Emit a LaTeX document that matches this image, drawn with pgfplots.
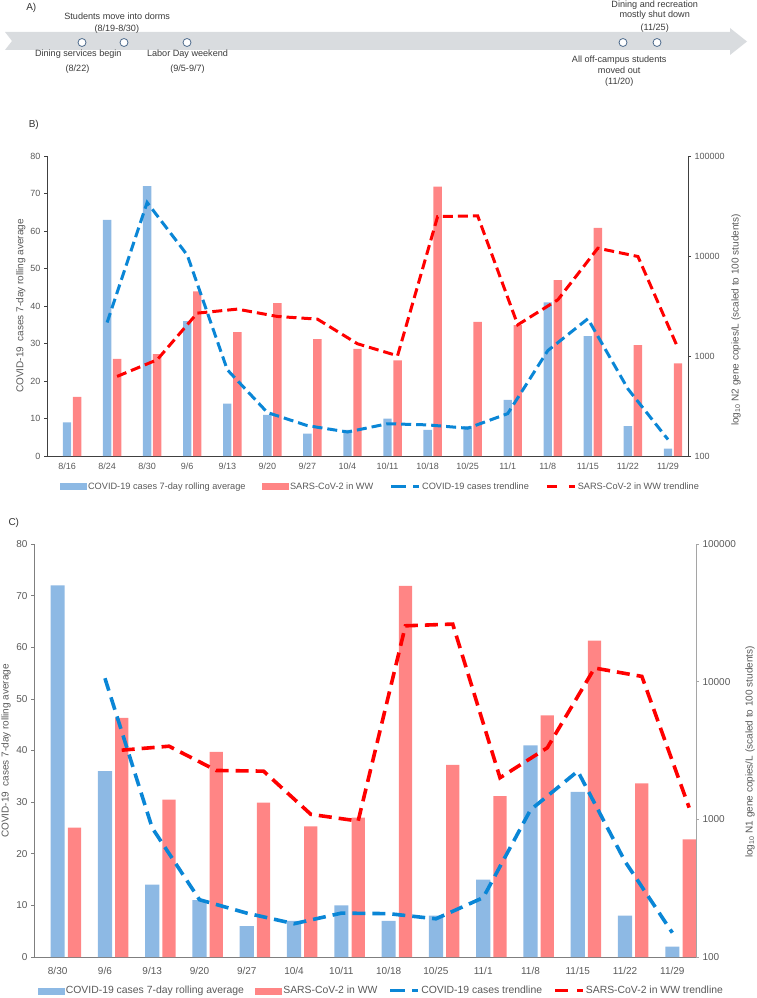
\documentclass[border=0pt]{standalone}
\usepackage{fontspec}
\setmainfont{Liberation Sans}
\usepackage{pgfplots}
\pgfplotsset{compat=1.18}
\definecolor{barblue}{HTML}{8DB9E4}
\definecolor{barred}{HTML}{FF8585}
\definecolor{lineblue}{HTML}{0A86D6}
\definecolor{linered}{HTML}{FF0000}
\definecolor{txt}{HTML}{595959}
\definecolor{tltxt}{HTML}{3A3A3A}
\definecolor{tlbar}{HTML}{D9DCDF}
\definecolor{circ}{HTML}{4E6B8C}
\definecolor{axB}{HTML}{404040}
\definecolor{axC}{HTML}{7F7F7F}

\pgfplotsset{
  Bbase/.style={at={(47pt,-456pt)}, anchor=south west, scale only axis,
    width=641pt, height=300pt, xmin=-0.5, xmax=15.5},
  Cbase/.style={at={(34pt,-957pt)}, anchor=south west, scale only axis,
    width=662pt, height=413pt, xmin=-0.5, xmax=13.5},
  barleg/.style={legend image code/.code={\fill[#1] (0pt,-3pt) rectangle (26pt,3pt);}},
  dashleg/.style={legend image code/.code={\draw[#1, line width=2.8pt] (0pt,0pt)--(14.5pt,0pt);
      \draw[#1, line width=2.8pt] (22pt,0pt)--(28pt,0pt);}},
}

\begin{document}
\begin{tikzpicture}
\useasboundingbox (0pt,0pt) rectangle (756pt,-998pt);

% ---------------- Panel A: timeline ----------------
\fill[tlbar] (5pt,-32pt) -- (730pt,-32pt) -- (730pt,-28pt) -- (747pt,-41.5pt)
  -- (730pt,-55pt) -- (730pt,-50pt) -- (5pt,-50pt) -- (12pt,-41pt) -- cycle;
\foreach \cx in {82,124,187,623,657}
  \draw[circ, line width=0.8pt, fill=white] (\cx pt,-42.5pt) circle (4pt);
\begin{scope}[every node/.style={font=\fontsize{9.1}{10}\selectfont, text=tltxt, inner sep=0pt}]
\node at (117.2pt,-16.7pt) {Students move into dorms};
\node at (116.8pt,-29pt) {(8/19-8/30)};
\node at (78.3pt,-54pt) {Dining services begin};
\node at (77.5pt,-69pt) {(8/22)};
\node at (187.5pt,-54pt) {Labor Day weekend};
\node at (187.5pt,-69pt) {(9/5-9/7)};
\node at (654.7pt,-5.5pt) {Dining and recreation};
\node at (654.7pt,-15.3pt) {mostly shut down};
\node at (654.7pt,-28pt) {(11/25)};
\node at (619.2pt,-60.3pt) {All off-campus students};
\node at (619.2pt,-70.3pt) {moved out};
\node at (619.2pt,-82.5pt) {(11/20)};
\end{scope}
\begin{scope}[every node/.style={font=\fontsize{10}{12}\selectfont, text=black!80, inner sep=0pt}]
\node at (31.3pt,-7.5pt) {A)};
\node at (33.8pt,-125.3pt) {B)};
\node at (13.8pt,-523pt) {C)};
\end{scope}

% ---------------- Panel B ----------------
\begin{axis}[Bbase, ymin=0, ymax=80,
  axis x line*=bottom, axis y line*=left,
  axis line style={draw=axB, line width=0.8pt, -},
  xtick={0,...,15},
  xticklabels={8/16,8/24,8/30,9/6,9/13,9/20,9/27,10/4,10/11,10/18,10/25,11/1,11/8,11/15,11/22,11/29},
  xtick style={draw=none},
  ytick={0,10,20,30,40,50,60,70,80},
  yticklabels={0,10,20,30,40,50,60,70,80},
  tick align=outside, major tick length=3pt,
  ytick style={draw=axB, line width=0.6pt},
  tick label style={font=\fontsize{9}{10}\selectfont, text=txt},
]
\addplot[ybar, bar width=0.21, bar shift=0pt, fill=barblue, draw=none] coordinates {
(0,9) (1,63) (2,72) (3,36) (4,14) (5,11) (6,6) (7,7) (8,10) (9,7) (10,8) (11,15) (12,41) (13,32) (14,8) (15,2)};
\end{axis}
\begin{axis}[Bbase, ymode=log, ymin=100, ymax=100000,
  axis x line=none, axis y line*=right,
  axis line style={draw=axB, line width=0.8pt, -},
  ytick={100,1000,10000,100000}, yticklabels={100,1000,10000,100000},
  yminorticks=false,
  tick align=outside, major tick length=3pt,
  ytick style={draw=axB, line width=0.6pt},
  tick label style={font=\fontsize{9}{10}\selectfont, text=txt},
  log origin=infty,
]
\addplot[ybar, bar width=0.21, bar shift=0pt, fill=barred, draw=none] coordinates {
(0.25,391) (1.25,937) (2.25,1047) (3.25,4430) (4.25,1731) (5.25,3388) (6.25,1479) (7.25,1181)
(8.25,903) (9.25,49400) (10.25,2198) (11.25,2036) (12.25,5730) (13.25,19100) (14.25,1285) (15.25,843)};
\end{axis}
\begin{axis}[Bbase, ymin=0, ymax=80, hide axis]
\addplot[lineblue, line width=3pt, dash pattern=on 10pt off 5pt] coordinates {
(1,35.6) (2,67.6) (3,53.6) (4,23) (5,11.6) (6,8.1) (7,6.4) (8,8.6) (9,8.3) (10,7.4) (11,11.3) (12,28.1) (13,36.6) (14,17.9) (15,4.4)};
\end{axis}
\begin{axis}[Bbase, ymode=log, ymin=100, ymax=100000, hide axis,
  legend columns=4,
  legend style={at={(0.0203,-0.1023)}, anchor=west, draw=none, fill=none,
    inner sep=0pt, font=\fontsize{9.2}{10}\selectfont, text=txt,
    nodes={inner sep=1.5pt},
    /tikz/every even column/.append style={column sep=15pt}},
]
\addlegendimage{barleg=barblue}
\addlegendentry{COVID-19 cases 7-day rolling average}
\addlegendimage{barleg=barred}
\addlegendentry{SARS-CoV-2 in WW}
\addlegendimage{dashleg=lineblue}
\addlegendentry{COVID-19 cases trendline}
\addplot[linered, line width=3pt, dash pattern=on 10pt off 5pt, dashleg=linered] coordinates {
(1.25,625) (2.25,917) (3.25,2683) (4.25,2943) (5.25,2485) (6.25,2337) (7.25,1325) (8.25,1005)
(9.25,24800) (10.25,25200) (11.25,2051) (12.25,3646) (13.25,11970) (14.25,9886) (15.25,1199)};
\addlegendentry{SARS-CoV-2 in WW trendline}
\end{axis}
\node[rotate=90, font=\fontsize{10}{12}\selectfont, text=txt] at (20.7pt,-306pt) {COVID-19\ \ cases 7-day rolling average};
\node[rotate=90, font=\fontsize{10}{12}\selectfont, text=txt] at (736pt,-320pt) {log\textsubscript{10} N2 gene copies/L (scaled to 100 students)};

% ---------------- Panel C ----------------
\begin{axis}[Cbase, ymin=0, ymax=80,
  axis x line*=bottom, axis y line*=left,
  axis line style={draw=axC, line width=0.8pt, -},
  xtick={0,...,13},
  xticklabels={8/30,9/6,9/13,9/20,9/27,10/4,10/11,10/18,10/25,11/1,11/8,11/15,11/22,11/29},
  xtick style={draw=none},
  xticklabel style={yshift=-3.5pt},
  ytick={0,10,20,30,40,50,60,70,80},
  yticklabels={0,10,20,30,40,50,60,70,80},
  tick align=outside, major tick length=3pt,
  ytick style={draw=axC, line width=0.6pt},
  tick label style={font=\fontsize{10}{12}\selectfont, text=txt},
]
\addplot[ybar, bar width=0.30, bar shift=0pt, fill=barblue, draw=none] coordinates {
(0,72) (1,36) (2,14) (3,11) (4,6) (5,7) (6,10) (7,7) (8,8) (9,15) (10,41) (11,32) (12,8) (13,2)};
\end{axis}
\begin{axis}[Cbase, ymode=log, ymin=100, ymax=100000,
  axis x line=none, axis y line*=right,
  axis line style={draw=axC!70, line width=0.8pt, -},
  ytick={100,1000,10000,100000}, yticklabels={100,1000,10000,100000},
  yminorticks=false,
  tick align=outside, major tick length=3pt,
  ytick style={draw=axC!70, line width=0.6pt},
  tick label style={font=\fontsize{10}{12}\selectfont, text=txt},
  log origin=infty,
]
\addplot[ybar, bar width=0.28, bar shift=0pt, fill=barred, draw=none] coordinates {
(0.355,871) (1.355,5458) (2.355,1390) (3.355,3093) (4.355,1321) (5.355,890) (6.355,1028)
(7.355,49600) (8.355,2490) (9.355,1475) (10.355,5700) (11.355,19900) (12.355,1822) (13.355,716)};
\end{axis}
\begin{axis}[Cbase, ymin=0, ymax=80, hide axis]
\addplot[lineblue, line width=3.6pt, dash pattern=on 13pt off 7pt] coordinates {
(1,54) (2,25) (3,11.1) (4,8.5) (5,6.45) (6,8.5) (7,8.4) (8,7.4) (9,11.5) (10,28.5) (11,36) (12,18.5) (13,4.7)};
\end{axis}
\begin{axis}[Cbase, ymode=log, ymin=100, ymax=100000, hide axis,
  legend columns=4,
  legend style={at={(0.0057,-0.0816)}, anchor=west, draw=none, fill=none,
    inner sep=0pt, font=\fontsize{10.4}{12}\selectfont, text=txt,
    nodes={inner sep=1.5pt},
    /tikz/every even column/.append style={column sep=10pt}},
]
\addlegendimage{barleg=barblue}
\addlegendentry{COVID-19 cases 7-day rolling average}
\addlegendimage{barleg=barred}
\addlegendentry{SARS-CoV-2 in WW}
\addlegendimage{dashleg=lineblue}
\addlegendentry{COVID-19 cases trendline}
\addplot[linered, line width=3.6pt, dash pattern=on 13pt off 7pt, dashleg=linered] coordinates {
(1.355,3180) (2.355,3398) (3.355,2265) (4.355,2239) (5.355,1087) (6.355,972) (7.355,25450)
(8.355,26200) (9.355,2005) (10.355,3310) (11.355,12560) (12.355,10920) (13.355,1216)};
\addlegendentry{SARS-CoV-2 in WW trendline}
\end{axis}
\node[rotate=90, font=\fontsize{10}{12}\selectfont, text=txt] at (6pt,-751pt) {COVID-19\ \ cases 7-day rolling average};
\node[rotate=90, font=\fontsize{10}{12}\selectfont, text=txt] at (750pt,-752pt) {log\textsubscript{10} N1 gene copies/L (scaled to 100 students)};
\end{tikzpicture}
\end{document}
